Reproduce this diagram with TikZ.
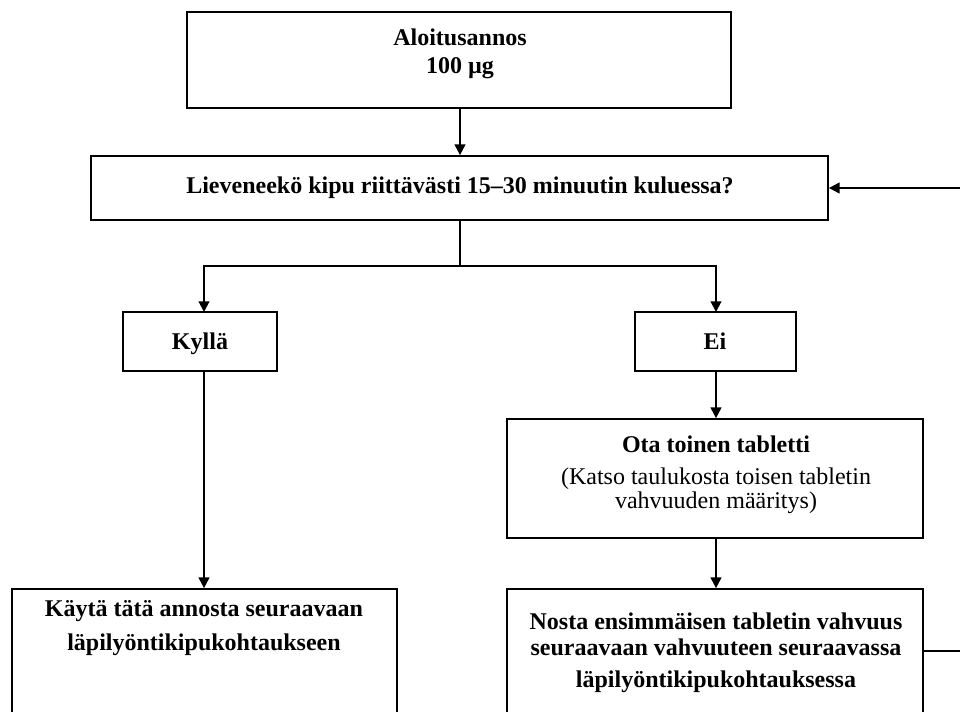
\documentclass[tikz,border=0pt]{standalone}
\usepackage{fontspec}
\setmainfont{Liberation Serif}
\usetikzlibrary{arrows.meta,fit}
\begin{document}
\begin{tikzpicture}[x=0.75pt,y=-0.75pt,
  box/.style={draw,line width=1.3pt,inner sep=0pt},
  arr/.style={-{Triangle[length=8pt,width=8pt]},line width=1.5pt},
  ln/.style={line width=1.5pt},
  txt/.style={font=\fontsize{18}{21}\selectfont\bfseries,inner sep=0pt,anchor=base},
  rtxt/.style={font=\fontsize{18}{21}\selectfont,inner sep=0pt,anchor=base}]
\useasboundingbox (0,0) rectangle (960,711);
\clip (0,0) rectangle (960,711);
% boxes
\node[box,fit={(187,12) (731,108)}] (top) {};
\node[box,fit={(91,156) (828,220)}] (q) {};
\node[box,fit={(123,312) (277,371)}] (yes) {};
\node[box,fit={(635,312) (796,371)}] (no) {};
\node[box,fit={(507,419) (923,538)}] (ota) {};
\node[box,fit={(12,589) (397,760)}] (kayta) {};
\node[box,fit={(507,589) (923,760)}] (nosta) {};
% texts
\node[txt] (t1) at (460,45) {Aloitusannos};
\node[txt] (t2) at (460,73) {100 µg};
\node[txt] (t3) at (460,193) {Lieveneekö kipu riittävästi 15–30 minuutin kuluessa?};
\node[txt] (t4) at (200,349) {Kyllä};
\node[txt] (t5) at (715,349) {Ei};
\node[txt] (t6) at (716,452) {Ota toinen tabletti};
\node[rtxt] (t7) at (716,484) {(Katso taulukosta toisen tabletin};
\node[rtxt] (t8) at (716,508) {vahvuuden määritys)};
\node[txt] (t9) at (204,616) {Käytä tätä annosta seuraavaan};
\node[txt] (t10) at (204,650) {läpilyöntikipukohtaukseen};
\node[txt] (t11) at (716,629) {Nosta ensimmäisen tabletin vahvuus};
\node[txt] (t12) at (716,655) {seuraavaan vahvuuteen seuraavassa};
\node[txt] (t13) at (716,687) {läpilyöntikipukohtauksessa};
% connectors
\coordinate (split) at (460,266);
\coordinate (yesx) at (204,312);
\coordinate (nox) at (716,312);
\draw[arr] (top.south -| split) -- (q.north -| split);
\draw[ln] (q.south -| split) -- (split);
\draw[arr] (split) -| (yesx);
\draw[arr] (split) -| (nox);
\draw[arr] (nox |- no.south) -- (nox |- ota.north);
\draw[arr] (nox |- ota.south) -- (nox |- nosta.north);
\draw[arr] (yes.south -| yesx) -- (kayta.north -| yesx);
\coordinate (rr) at (1000,651);
\draw[arr] (nosta.east |- rr) -- (rr) |- (q.east);
\end{tikzpicture}
\end{document}
